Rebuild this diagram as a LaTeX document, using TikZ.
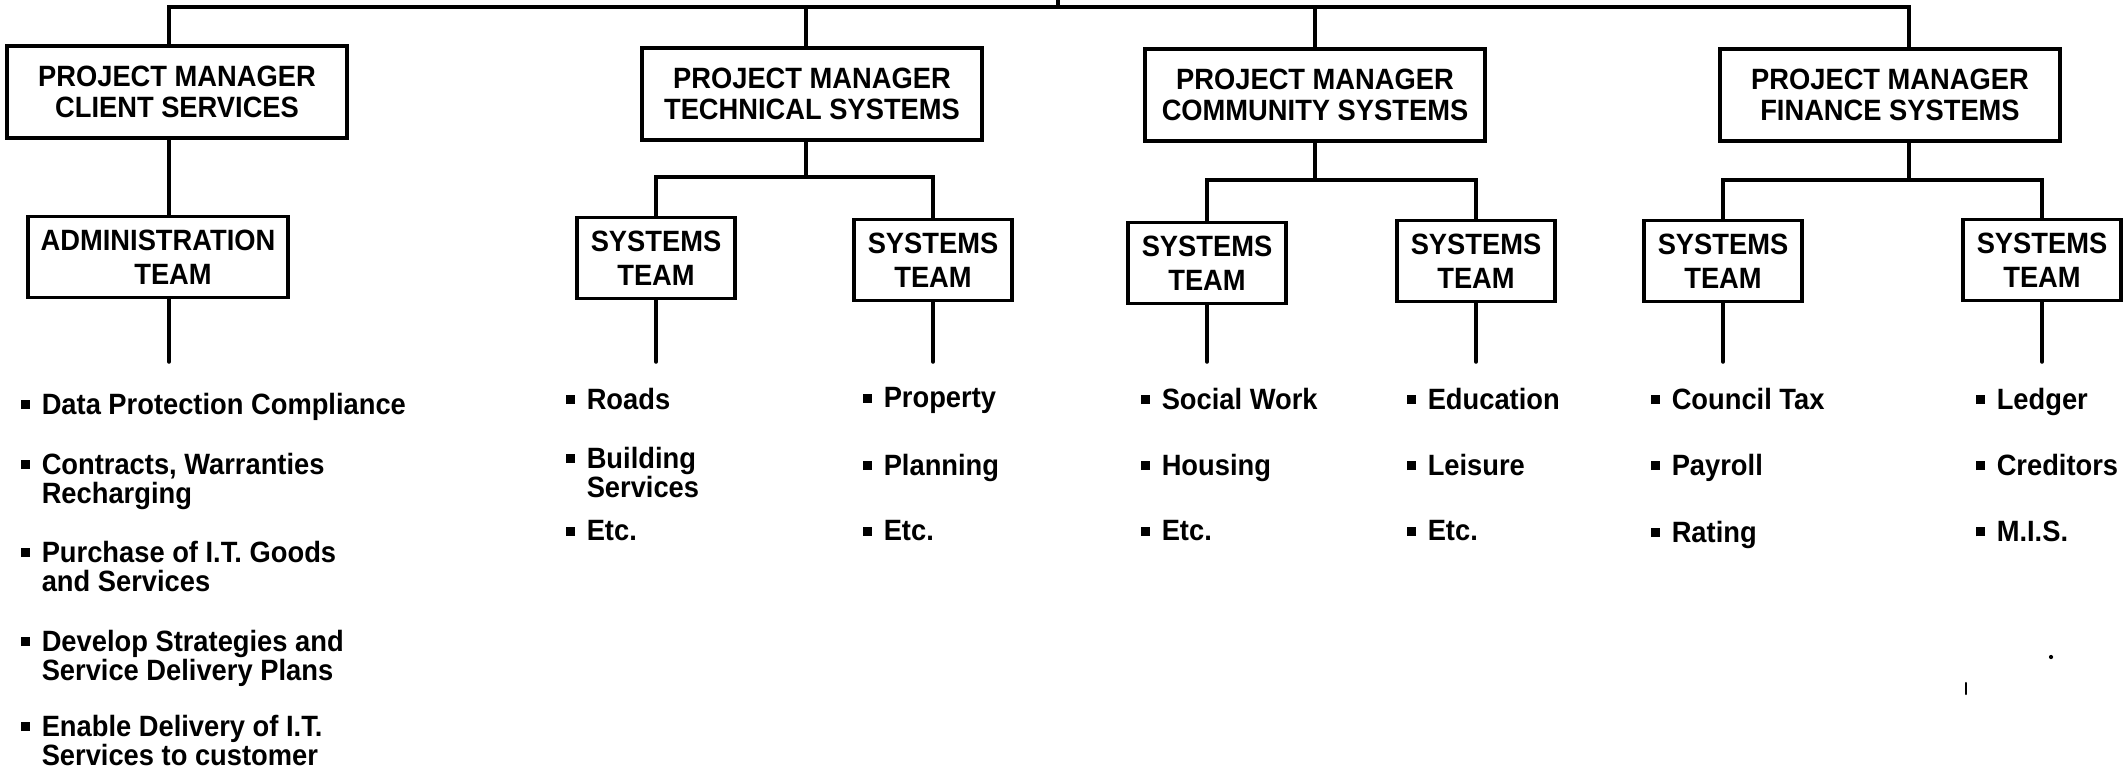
\documentclass[tikz,border=0pt]{standalone}
\usepackage{fontspec}
\setmainfont[FakeStretch=0.93]{Liberation Sans}
\newcommand\sqb{\llap{\rule[0.05cm]{0.09cm}{0.09cm}\hspace{0.12cm}}}
\begin{document}
\begin{tikzpicture}[x=0.01cm,y=-0.01cm,line width=1pt,line cap=round,
	pm/.style={draw,align=center,inner sep=0pt,minimum width=3.4cm,minimum height=0.92cm,
		font=\bfseries\fontsize{8.35}{8.8}\selectfont},
	team/.style={draw,align=center,inner sep=0pt,minimum width=1.58cm,minimum height=0.81cm,
		font=\bfseries\fontsize{8.35}{9.6}\selectfont},
	item/.style={anchor=north west,align=left,inner sep=0pt,
		font=\bfseries\fontsize{8.35}{8.25}\selectfont}]
	\useasboundingbox (0,0) rectangle (2123,772);
	% managers
	\node[pm] (pmA) at (177,92) {PROJECT MANAGER\\CLIENT SERVICES};
	\node[pm] (pmB) at (812,94) {PROJECT MANAGER\\TECHNICAL SYSTEMS};
	\node[pm] (pmC) at (1315,95) {PROJECT MANAGER\\COMMUNITY SYSTEMS};
	\node[pm] (pmD) at (1890,95) {PROJECT MANAGER\\FINANCE SYSTEMS};
	% teams
	\node[team,minimum width=2.6cm] (adm) at (158,257) {ADMINISTRATION\\\hspace*{0.3cm}TEAM};
	\node[team] (tB1) at (656,258) {SYSTEMS\\TEAM};
	\node[team] (tB2) at (933,260) {SYSTEMS\\TEAM};
	\node[team] (tC1) at (1207,263) {SYSTEMS\\TEAM};
	\node[team] (tC2) at (1476,261) {SYSTEMS\\TEAM};
	\node[team] (tD1) at (1723,261) {SYSTEMS\\TEAM};
	\node[team] (tD2) at (2042,260) {SYSTEMS\\TEAM};
	% connector columns and branch levels
	\coordinate (root) at (1058,0);
	\coordinate (bus) at (1058,7);
	\coordinate (colA) at (169,0);
	\coordinate (colB) at (806,177);
	\coordinate (colC) at (1315,180);
	\coordinate (colD) at (1909,180);
	\coordinate (leaf) at (0,362);
	\draw (root) -- (bus);
	\draw (pmA.north -| colA) |- (bus) -| (pmD.north -| colD);
	\draw (pmB.north -| colB) -- (colB |- bus);
	\draw (pmC.north -| colC) -- (colC |- bus);
	\draw (pmA.south -| colA) -- (adm.north -| colA);
	\draw (adm.south -| colA) -- (colA |- leaf);
	\foreach \p/\l/\r in {B/tB1/tB2,C/tC1/tC2,D/tD1/tD2}{
		\draw (pm\p.south -| col\p) -- (col\p);
		\draw (\l.north) |- (col\p) -| (\r.north);
	}
	\foreach \t in {tB1,tB2,tC1,tC2,tD1,tD2}
		\draw (\t.south) -- (\t.south |- leaf);
	% duties
	\node[item] (iA-1) at (40,391) {\sqb Data Protection Compliance};
	\node[item] (iA-2) at (40,451) {\sqb Contracts, Warranties\\Recharging};
	\node[item] (iA-3) at (40,539) {\sqb Purchase of I.T. Goods\\and Services};
	\node[item] (iA-4) at (40,628) {\sqb Develop Strategies and\\Service Delivery Plans};
	\node[item] (iA-5) at (40,713) {\sqb Enable Delivery of I.T.\\Services to customer};
	\foreach \x/\n/\a/\b/\yb/\c in {585/B1/Roads/{Building\\Services}/445/Etc.,
		882/B2/Property/Planning/452/Etc., 1160/C1/Social Work/Housing/452/Etc.,
		1426/C2/Education/Leisure/452/Etc., 1670/D1/Council Tax/Payroll/452/Rating,
		1995/D2/Ledger/Creditors/452/M.I.S.}{
		\node[item] (i\n-1) at (\x,386) {\sqb \a};
		\node[item] (i\n-2) at (\x,\yb) {\sqb \b};
		\node[item] (i\n-3) at (\x,519) {\sqb \c};
	}
	% stray marks
	\draw[line width=0.6pt] (1966,683) -- (1966,694);
	\fill (2051,657) circle (0.6pt);
\end{tikzpicture}
\end{document}
